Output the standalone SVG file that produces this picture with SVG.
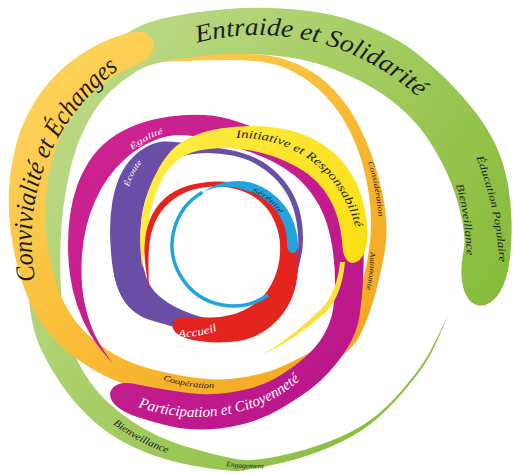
<svg xmlns="http://www.w3.org/2000/svg" width="514" height="474" viewBox="0 0 514 474">
<defs>
<linearGradient id="gGreen" gradientUnits="userSpaceOnUse" x1="60" y1="0" x2="500" y2="300"><stop offset="0" stop-color="#c3dc91"/><stop offset="0.5" stop-color="#a6ce64"/><stop offset="1" stop-color="#86bb39"/></linearGradient>
<linearGradient id="gOrange" gradientUnits="userSpaceOnUse" x1="60" y1="40" x2="380" y2="380"><stop offset="0" stop-color="#fdd45c"/><stop offset="0.5" stop-color="#f9bc36"/><stop offset="1" stop-color="#f4a31c"/></linearGradient>
<linearGradient id="gMag" gradientUnits="userSpaceOnUse" x1="80" y1="120" x2="360" y2="420"><stop offset="0" stop-color="#cf2492"/><stop offset="1" stop-color="#b8148a"/></linearGradient>
<linearGradient id="gYel" gradientUnits="userSpaceOnUse" x1="140" y1="130" x2="370" y2="260"><stop offset="0" stop-color="#fdec4a"/><stop offset="1" stop-color="#fbdf14"/></linearGradient>
<path id="tpEntraide" d="M197,43 A237,237 0 0 1 444.8,126.1"/>
<path id="tpConv" d="M40,300 C20,230 28,120 150,48"/>
<path id="tpInit" d="M236,138 C290,136 345,170 358,238"/>
<path id="tpPart" d="M138,407 C190,425 255,420 300,380"/>
<path id="tpEduc" d="M474,152 C488,185 498,225 500,272"/>
<path id="tpBienR" d="M455,182 C463,206 466,231 467,262"/>
<path id="tpEgal" d="M132,150 Q150,136 174,130"/>
<path id="tpEcou" d="M129,187 Q133,170 149,156"/>
<path id="tpSere" d="M252,192 A56,56 0 0 1 284,221"/>
<path id="tpAcc" d="M178,337 Q200,338 224,328"/>
<path id="tpCons" d="M368,162 Q377,190 379,224"/>
<path id="tpAuto" d="M370,252 Q371,272 365,294"/>
<path id="tpCoop" d="M163,380 Q190,389 216,388"/>
<path id="tpBienB" d="M113,424 Q140,445 176,456"/>
<path id="tpEng" d="M226,466 Q247,469 268,468"/>
</defs>
<style>
.lbl{font-family:"Liberation Serif","DejaVu Serif",serif;font-style:italic;}
.dark{fill:#1c1c1c}
.light{fill:#ffffff}
</style>
<rect width="514" height="474" fill="#ffffff"/>

<g id="entraide-solidarite">
<path fill="url(#gGreen)" d="M448,315 Q436,345 428.5,358 Q421,371 404,391 Q387,411 370.5,424 Q354,437 329,447.5 Q304,458 279,463.5 Q254,469 243.5,470.5 Q233,472 204,467.5 Q175,463 154,455.5 Q133,448 116.5,438 Q100,428 86,414 Q72,400 61,384 Q50,368 42,351.5 Q34,335 30.5,312.5 Q27,290 27.5,260 Q28,230 34,195 Q40,160 51,135 Q62,110 77,86 Q92,62 105,50 Q118,38 133,29.5 Q148,21 174,16 Q200,11 227,9 Q254,7 282,8.5 Q310,10 332,15 Q354,20 377,30 Q400,40 417,53.5 Q434,67 448,81 Q462,95 474.5,111 Q487,127 495,143.5 Q503,160 507,180 Q511,200 511.5,220 Q512,240 510,257.5 Q508,275 503,286 Q498,297 491,302 Q484,307 477,305 Q470,303 466,295 Q462,287 461.5,275 Q461,263 463.5,251.5 Q466,240 462,220 Q458,200 451,182.5 Q444,165 432.5,146 Q421,127 405.5,112.5 Q390,98 372,87.5 Q354,77 332,68.5 Q310,60 282,56.5 Q254,53 227,55 Q200,57 175,60 Q150,63 137,71 Q124,79 113,89 Q102,99 94,111.5 Q86,124 80,138.5 Q74,153 70,170.5 Q66,188 63.5,206.5 Q61,225 60.5,243.5 Q60,262 60.5,280 Q61,298 63.5,314 Q66,330 71.5,346 Q77,362 86,376 Q95,390 106.5,401 Q118,412 131.5,421 Q145,430 161.5,437.5 Q178,445 205.5,452 Q233,459 243.5,460 Q254,461 279,456 Q304,451 329,441.5 Q354,432 370.5,420 Q387,408 403.5,388.5 Q420,369 427.5,356 Q435,343 448,315 Z"/>
<text class="lbl dark" font-size="25"><textPath href="#tpEntraide" textLength="238" lengthAdjust="spacingAndGlyphs">Entraide et Solidarité</textPath></text>
<text class="lbl dark" font-size="10.5"><textPath href="#tpEduc" startOffset="6" textLength="108" lengthAdjust="spacingAndGlyphs">Éducation Populaire</textPath></text>
<text class="lbl dark" font-size="10.5"><textPath href="#tpBienR" startOffset="3" textLength="72" lengthAdjust="spacingAndGlyphs">Bienveillance</textPath></text>
<text class="lbl dark" font-size="10"><textPath href="#tpBienB" textLength="62" lengthAdjust="spacingAndGlyphs">Bienveillance</textPath></text>
<text class="lbl dark" font-size="7"><textPath href="#tpEng" textLength="38" lengthAdjust="spacingAndGlyphs">Engagement</textPath></text>
</g>

<g id="convivialite-echanges">
<path fill="url(#gOrange)" d="M162,62 Q200,55 227,54 Q254,53 271,56 Q288,59 304.5,67.5 Q321,76 334.5,90.5 Q348,105 357,122 Q366,139 372,156 Q378,173 382,191.5 Q386,210 386.5,225 Q387,240 384.5,253 Q382,266 378.5,281.5 Q375,297 369.5,312.5 Q364,328 359,337 Q354,346 342,356 Q330,366 315,375.5 Q300,385 281,391 Q262,397 239.5,398.5 Q217,400 183.5,396.5 Q150,393 131,386.5 Q112,380 98.5,372.5 Q85,365 73.5,356.5 Q62,348 51,335.5 Q40,323 32,306.5 Q24,290 18.5,270 Q13,250 10.5,230 Q8,210 9,190 Q10,170 15,149 Q20,128 30,110 Q40,92 52.5,78.5 Q65,65 80,55 Q95,45 110,39 Q125,33 134,32 Q143,31 148,34.5 Q153,38 153.5,44 Q154,50 150.5,55 Q147,60 140,63 Q133,66 120.5,72.5 Q108,79 94,92 Q80,105 70,120 Q60,135 55,150 Q50,165 47.5,182.5 Q45,200 45.5,220 Q46,240 49.5,257.5 Q53,275 58.5,290 Q64,305 74,319 Q84,333 99.5,344.5 Q115,356 132.5,363 Q150,370 183.5,376 Q217,382 242,377.5 Q267,373 278.5,368 Q290,363 302.5,356.5 Q315,350 326.5,342 Q338,334 345,324.5 Q352,315 356.5,302.5 Q361,290 364,276.5 Q367,263 369,249.5 Q371,236 371,223 Q371,210 369,195 Q367,180 362.5,164 Q358,148 350,131.5 Q342,115 330,101 Q318,87 302.5,77 Q287,67 270.5,63.5 Q254,60 227,60 Q200,60 162,62 Z"/>
<text class="lbl dark" font-size="26"><textPath href="#tpConv" startOffset="20" textLength="240" lengthAdjust="spacingAndGlyphs">Convivialité et Échanges</textPath></text>
<text class="lbl dark" font-size="7.5"><textPath href="#tpCons" textLength="56" lengthAdjust="spacingAndGlyphs">Considération</textPath></text>
<text class="lbl dark" font-size="7.5"><textPath href="#tpAuto" textLength="38" lengthAdjust="spacingAndGlyphs">Autonomie</textPath></text>
<text class="lbl dark" font-size="8"><textPath href="#tpCoop" textLength="52" lengthAdjust="spacingAndGlyphs">Coopération</textPath></text>
</g>

<g id="participation-citoyennete">
<path fill="url(#gMag)" d="M113,364 Q97,346 89.5,333 Q82,320 77,305 Q72,290 70,275 Q68,260 68,245 Q68,230 70,215 Q72,200 77,186 Q82,172 90,160 Q98,148 110,139 Q122,130 137,124.5 Q152,119 169.5,116.5 Q187,114 204.5,115 Q222,116 238.5,122 Q255,128 272.5,133 Q290,138 305,146.5 Q320,155 331,165 Q342,175 349,187.5 Q356,200 359.5,216 Q363,232 363.5,247.5 Q364,263 363,281.5 Q362,300 359.5,316 Q357,332 348.5,346 Q340,360 330,371 Q320,382 310,389.5 Q300,397 281,408.5 Q262,420 239.5,425 Q217,430 198.5,429.5 Q180,429 165,425 Q150,421 139,417.5 Q128,414 121,409.5 Q114,405 111.5,400 Q109,395 111,390.5 Q113,386 119,384 Q125,382 137.5,384.5 Q150,387 167.5,390 Q185,393 201,394 Q217,395 238.5,391 Q260,387 275,378.5 Q290,370 303.5,358.5 Q317,347 324,334.5 Q331,322 333,309.5 Q335,297 335,281 Q335,265 332.5,248.5 Q330,232 325,218.5 Q320,205 311.5,193.5 Q303,182 294,175 Q285,168 273.5,162 Q262,156 248.5,151.5 Q235,147 220,142.5 Q205,138 192.5,136 Q180,134 169,136 Q158,138 146.5,144 Q135,150 125,159 Q115,168 108,178 Q101,188 95.5,200 Q90,212 86.5,226 Q83,240 82,255 Q81,270 82,285 Q83,300 87.5,315 Q92,330 97.5,340 Q103,350 113,364 Z"/>
<text class="lbl light" font-size="15"><textPath href="#tpPart" textLength="172" lengthAdjust="spacingAndGlyphs">Participation et Citoyenneté</textPath></text>
<text class="lbl light" font-size="8"><textPath href="#tpEgal" textLength="36" lengthAdjust="spacingAndGlyphs">Égalité</textPath></text>
</g>

<g id="ecoute">
<path fill="#6a4fa6" d="M292,290 Q300,265 302,251.5 Q304,238 302,223 Q300,208 294,196 Q288,184 278,174 Q268,164 256.5,158.5 Q245,153 230,150 Q215,147 202.5,145.5 Q190,144 180,142.5 Q170,141 163,141.5 Q156,142 148,146 Q140,150 132.5,157.5 Q125,165 120,176 Q115,187 112.5,201 Q110,215 110,230 Q110,245 112,262.5 Q114,280 119,291.5 Q124,303 132,310 Q140,317 150,320 Q160,323 172.5,326.5 Q185,330 200,333 Q215,336 227.5,336 Q240,336 242.5,332 Q245,328 232.5,325 Q220,322 205,318 Q190,314 178.5,308.5 Q167,303 158.5,295.5 Q150,288 146,276.5 Q142,265 141,252.5 Q140,240 141,225 Q142,210 146,198.5 Q150,187 155,178.5 Q160,170 167.5,164 Q175,158 185,155.5 Q195,153 207.5,153 Q220,153 232.5,155.5 Q245,158 255,163.5 Q265,169 273.5,177 Q282,185 288,196 Q294,207 296.5,221.5 Q299,236 298,249.5 Q297,263 292,290 Z"/>
<text class="lbl light" font-size="8"><textPath href="#tpEcou" textLength="28" lengthAdjust="spacingAndGlyphs">Écoute</textPath></text>
</g>

<g id="initiative-responsabilite">
<path fill="url(#gYel)" d="M142,268 Q139,240 141,222.5 Q143,205 148,191.5 Q153,178 159.5,167 Q166,156 173,149 Q180,142 192.5,136.5 Q205,131 220,128.5 Q235,126 251,126 Q267,126 283.5,129 Q300,132 315,140 Q330,148 340,159 Q350,170 356,182.5 Q362,195 365,210 Q368,225 367.5,236.5 Q367,248 363.5,254.5 Q360,261 355,262.5 Q350,264 346.5,259.5 Q343,255 342.5,246.5 Q342,238 340,227.5 Q338,217 334,207.5 Q330,198 323.5,189.5 Q317,181 308.5,174.5 Q300,168 286,161.5 Q272,155 256,151.5 Q240,148 225,148 Q210,148 199,150.5 Q188,153 180,158.5 Q172,164 166,173 Q160,182 155.5,194.5 Q151,207 149,222 Q147,237 142,268 Z"/>
<path fill="#f8e23a" d="M345,262 Q342,295 326,312 Q300,336 263,355 Q297,333 322,308 Q337,292 340,262 Z"/>
<text class="lbl dark" font-size="11.5"><textPath href="#tpInit" textLength="162" lengthAdjust="spacingAndGlyphs">Initiative et Responsabilité</textPath></text>
</g>

<g id="accueil">
<path fill="#e3241f" d="M149,290 Q144,262 144.5,247 Q145,232 150,219.5 Q155,207 164.5,198.5 Q174,190 187,186 Q200,182 215,181.5 Q230,181 244,184 Q258,187 269.5,194.5 Q281,202 288,213.5 Q295,225 297,240 Q299,255 298,270 Q297,285 292,297.5 Q287,310 277.5,320 Q268,330 256.5,335.5 Q245,341 230,342 Q215,343 202.5,341.5 Q190,340 183,337 Q176,334 173.5,329.5 Q171,325 174,321 Q177,317 186,317 Q195,317 207.5,317.5 Q220,318 232.5,314.5 Q245,311 255,303.5 Q265,296 271,285 Q277,274 279,262 Q281,250 279.5,239 Q278,228 273,218 Q268,208 259,200.5 Q250,193 238,189.5 Q226,186 213,186.5 Q200,187 189,191 Q178,195 169,203 Q160,211 155,222.5 Q150,234 149,248 Q148,262 149,290 Z"/>
<text class="lbl light" font-size="11"><textPath href="#tpAcc" textLength="40" lengthAdjust="spacingAndGlyphs">Accueil</textPath></text>
</g>

<g id="serenite">
<path fill="none" stroke="#22a3dd" stroke-width="3.5" d="M268,295 A61,61 0 1 1 202.5,192.2"/>
<path fill="#22a3dd" d="M202.5,192.2 A63,63 0 0 1 249.8,182.2 A66,66 0 0 1 298,245 Q297,254 292,253 Q287,251 287,245 A54,54 0 0 0 247.5,190.9 A58,58 0 0 0 202.5,192.2 Z"/>
<text class="lbl dark" font-size="7"><textPath href="#tpSere" textLength="36" lengthAdjust="spacingAndGlyphs">Sérénité</textPath></text>
</g>

<g id="connectors"/>
</svg>
